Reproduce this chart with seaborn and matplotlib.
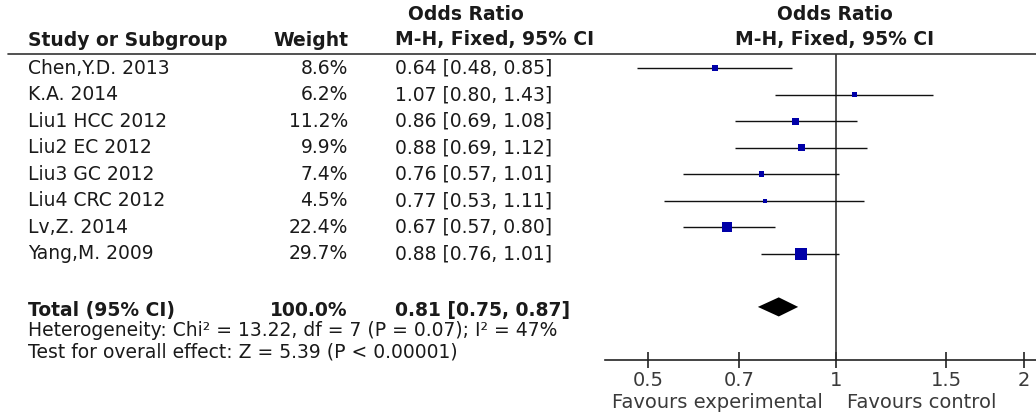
import matplotlib
matplotlib.use("Agg")
import matplotlib.pyplot as plt
from matplotlib.transforms import Bbox, TransformedBbox
from matplotlib.ticker import FixedLocator, FixedFormatter, NullLocator
import seaborn as sns
import pandas as pd
import numpy as np

# data
studies = ["Chen,Y.D. 2013", "K.A. 2014", "Liu1 HCC 2012", "Liu2 EC 2012",
           "Liu3 GC 2012", "Liu4 CRC 2012", "Lv,Z. 2014", "Yang,M. 2009"]
weights = [8.6, 6.2, 11.2, 9.9, 7.4, 4.5, 22.4, 29.7]
odds_ratio = [0.64, 1.07, 0.86, 0.88, 0.76, 0.77, 0.67, 0.88]
ci_low = [0.48, 0.80, 0.69, 0.69, 0.57, 0.53, 0.57, 0.76]
ci_high = [0.85, 1.43, 1.08, 1.12, 1.01, 1.11, 0.80, 1.01]
total_weight = 100.0
total_or, total_low, total_high = 0.81, 0.75, 0.87
heterogeneity = "Heterogeneity: Chi\u00b2 = 13.22, df = 7 (P = 0.07); I\u00b2 = 47%"
overall_test = "Test for overall effect: Z = 5.39 (P < 0.00001)"
tick_values = [0.5, 0.7, 1, 1.5, 2]
tick_labels = ["0.5", "0.7", "1", "1.5", "2"]

TEXT = "#1a1a1a"
SQUARE = "#0000a8"
W, H = 1036, 416
FS = 13.5


def set_style():
    sns.set_theme(style="white")
    plt.rcParams.update({
        'font.family': ['DejaVu Sans'],
        'font.size': FS,
        'text.color': TEXT,
        'axes.linewidth': 1.0,
    })


def draw_forest():
    set_style()
    fig = plt.figure(figsize=(W / 100, H / 100), dpi=100)

    # text layer in pixel coordinates
    tx = fig.add_axes([0, 0, 1, 1])
    tx.set_xlim(0, W)
    tx.set_ylim(H, 0)
    tx.axis('off')

    # plot panel: x 605..1036 px, y 54..360 px
    ax = fig.add_axes([605 / W, (H - 360) / H, (W - 605) / W, 306 / H])
    ax.patch.set_alpha(0)
    ax.set_xscale('log')
    ax.set_xlim(0.427, 2.09)
    ax.set_ylim(11.0, -0.53)

    df = pd.DataFrame({'study': studies, 'weight': weights, 'or': odds_ratio,
                       'low': ci_low, 'high': ci_high})
    df['row'] = np.arange(len(df))

    ax.axvline(1, color='#333333', lw=1.2, zorder=1)
    ax.hlines(df['row'], df['low'], df['high'], color='#111111', lw=1.0, zorder=2)
    sns.scatterplot(data=df, x='or', y='row', size='weight', sizes=(8, 74),
                    size_norm=(min(weights), max(weights)), marker='s',
                    color=SQUARE, edgecolor='none', legend=False, ax=ax, zorder=3)

    total_row = len(df) + 1
    ax.fill([total_low, total_or, total_high, total_or],
            [total_row, total_row - 0.36, total_row, total_row + 0.36],
            color='black', lw=0, zorder=3)

    for s in ['top', 'right', 'left']:
        ax.spines[s].set_visible(False)
    ax.spines['bottom'].set_color('#222222')
    ax.spines['bottom'].set_linewidth(1.2)
    ax.xaxis.set_major_locator(FixedLocator(tick_values))
    ax.xaxis.set_major_formatter(FixedFormatter(tick_labels))
    ax.xaxis.set_minor_locator(NullLocator())
    ax.yaxis.set_major_locator(NullLocator())
    ax.tick_params(axis='x', direction='inout', length=12, width=1.2,
                   color='#222222', labelcolor='#3a3a3a', labelsize=14, pad=2,
                   bottom=True)
    ax.set_xlabel('')
    ax.set_ylabel('')

    # headers
    tx.text(466, 14, "Odds Ratio", ha='center', va='center', fontweight='bold')
    tx.text(835, 14, "Odds Ratio", ha='center', va='center', fontweight='bold')
    tx.text(28, 40, "Study or Subgroup", ha='left', va='center', fontweight='bold')
    tx.text(348, 40, "Weight", ha='right', va='center', fontweight='bold')
    tx.text(395, 40, "M-H, Fixed, 95% CI", ha='left', va='center', fontweight='bold')
    tx.text(835, 40, "M-H, Fixed, 95% CI", ha='center', va='center', fontweight='bold')
    tx.plot([8, W], [54, 54], color='#333333', lw=1.2)

    # study rows, placed through the panel's y scale
    to_px = lambda r: H - ax.transData.transform((1, r))[1]
    fig.canvas.draw()
    for _, r in df.iterrows():
        y = to_px(r['row'])
        tx.text(28, y, r['study'], ha='left', va='center')
        tx.text(348, y, f"{r['weight']:.1f}%", ha='right', va='center')
        tx.text(395, y, f"{r['or']:.2f} [{r['low']:.2f}, {r['high']:.2f}]",
                ha='left', va='center')

    y = to_px(total_row) + 4
    tx.text(28, y, "Total (95% CI)", ha='left', va='center', fontweight='bold')
    tx.text(348, y, f"{total_weight:.1f}%", ha='right', va='center', fontweight='bold')
    tx.text(395, y, f"{total_or:.2f} [{total_low:.2f}, {total_high:.2f}]",
            ha='left', va='center', fontweight='bold')

    # heterogeneity line is cut off where the plot panel starts
    het = tx.text(28, 331, heterogeneity, ha='left', va='center', clip_on=True)
    het.set_clip_box(TransformedBbox(Bbox.from_extents(0, 0, 606 / W, 1),
                                     fig.transFigure))
    tx.text(28, 352, overall_test, ha='left', va='center')

    tx.text(823, 402, "Favours experimental", ha='right', va='center',
            color='#3a3a3a', fontsize=14)
    tx.text(847, 402, "Favours control", ha='left', va='center',
            color='#3a3a3a', fontsize=14)

    fig.savefig("out.png", dpi=100)
    return fig


draw_forest()
